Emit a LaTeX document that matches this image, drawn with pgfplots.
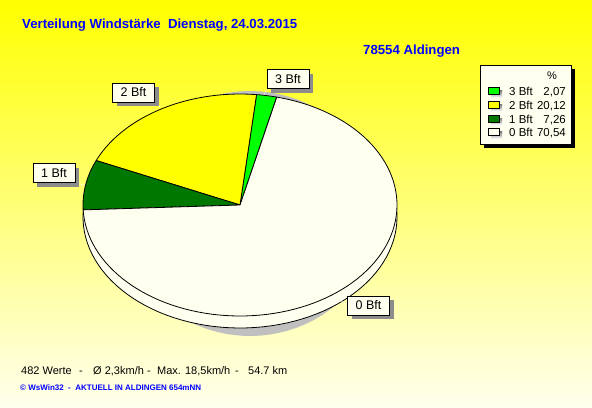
\documentclass[border=0pt]{standalone}
\usepackage{pgfplots}
\pgfplotsset{compat=1.18}
\usepackage{fontspec}
\setmainfont{Liberation Sans}
\usetikzlibrary{shadows}

\definecolor{bgtop}{RGB}{255,255,0}
\definecolor{bgbot}{RGB}{255,255,238}
\definecolor{ivory}{RGB}{255,255,240}
\definecolor{wsblue}{RGB}{0,0,255}
\definecolor{bft3}{RGB}{0,255,0}
\definecolor{bft2}{RGB}{255,255,0}
\definecolor{bft1}{RGB}{0,120,0}
\definecolor{shade}{RGB}{192,192,192}

% shares in percent
\def\pThree{2.07}
\def\pTwo{20.12}
\def\pOne{7.26}
\def\pZero{70.54}
\def\start{76.5}

\newcommand{\legrow}[4]{% y, colour, name, value
    \fill[shade] (491,#1-5) rectangle (502,#1+2);
    \draw[black, line width=0.8bp, fill=#2] (488,#1-8) rectangle (499,#1-1);
    \node[anchor=base west, inner sep=0pt, font=\fontsize{11.5bp}{13bp}\selectfont] at (509,#1) {#3\ Bft};
    \node[anchor=base east, inner sep=0pt, font=\fontsize{11.5bp}{13bp}\selectfont] at (566,#1) {#4};
}

\begin{document}
\begin{tikzpicture}
\begin{axis}[
    scale only axis,
    width=592bp, height=408bp,
    xmin=0, xmax=592, ymin=0, ymax=408,
    y dir=reverse,
    hide axis,
    clip=false,
    trig format plots=deg,
]
% background
\fill[top color=bgtop, bottom color=bgbot] (0,0) rectangle (592,408);

% shadow and rim
\addplot[fill=shade, draw=none, domain=0:360, samples=90]
    ({250+129*cos(x)}, {213.5-122.5*sin(x)}) -- cycle;
\addplot[fill=ivory, draw=black, line width=0.8bp, domain=0:360, samples=120]
    ({240+157*cos(x)}, {217-111*sin(x)}) -- cycle;

% slices
\pgfmathsetmacro{\aA}{\start}
\pgfmathsetmacro{\aB}{\aA+3.6*\pThree}
\pgfmathsetmacro{\aC}{\aB+3.6*\pTwo}
\pgfmathsetmacro{\aD}{\aC+3.6*\pOne}
\pgfmathsetmacro{\aE}{\aD+3.6*\pZero}
\pgfplotsset{every axis plot/.append style={line width=0.8bp, line join=round}}
\addplot[fill=bft3, draw=black, domain=\aA:\aB, samples=6]
    ({240+157*cos(x)}, {205-111*sin(x)}) -- (240,205) -- cycle;
\addplot[fill=bft2, draw=black, domain=\aB:\aC, samples=30]
    ({240+157*cos(x)}, {205-111*sin(x)}) -- (240,205) -- cycle;
\addplot[fill=bft1, draw=black, domain=\aC:\aD, samples=12]
    ({240+157*cos(x)}, {205-111*sin(x)}) -- (240,205) -- cycle;
\addplot[fill=ivory, draw=black, domain=\aD:\aE, samples=100]
    ({240+157*cos(x)}, {205-111*sin(x)}) -- (240,205) -- cycle;

% slice labels
\tikzset{plab/.style={draw=black, line width=0.8bp, fill=ivory, minimum width=42bp, minimum height=19bp,
    inner sep=0pt, font=\fontsize{12.5bp}{14bp}\selectfont,
    drop shadow={shadow xshift=4bp, shadow yshift=-4bp, fill=black!45, opacity=1}}}
\draw[white] (267,89) -- (264,95);
\draw[white] (155,102) -- (160,107);
\draw[white] (75,183) -- (85,185);
\draw[white] (348,306) -- (340,300);
\node[plab] at (288,79) {3 Bft};
\node[plab] at (133.5,92.5) {2 Bft};
\node[plab] at (54,173) {1 Bft};
\node[plab] at (368.5,305.5) {0 Bft};

% legend
\fill[black] (484,69) rectangle (575,148);
\draw[black, line width=0.8bp, fill=ivory] (480,65) rectangle (571,144);
\node[anchor=base, font=\fontsize{11bp}{13bp}\selectfont] at (552,79) {\%};
\legrow{95.7}{bft3}{3}{2,07}
\legrow{109.3}{bft2}{2}{20,12}
\legrow{123}{bft1}{1}{7,26}
\legrow{136.7}{ivory}{0}{70,54}

% titles
\node[anchor=base west, inner sep=0pt, text=wsblue, font=\bfseries\fontsize{13.2bp}{15bp}\selectfont]
    at (22,29) {Verteilung Windst\"arke\ \ Dienstag, 24.03.2015};
\node[anchor=base west, inner sep=0pt, text=wsblue, font=\bfseries\fontsize{13.2bp}{15bp}\selectfont]
    at (363,54) {78554 Aldingen};

% footer
\tikzset{foot/.style={anchor=base west, inner sep=0pt, font=\fontsize{11bp}{13bp}\selectfont}}
\node[foot] at (21,374) {482 Werte};
\node[foot] at (79,374) {-};
\node[foot] at (93,374) {Ø 2,3km/h};
\node[foot] at (147,374) {-};
\node[foot] at (157,374) {Max. 18,5km/h};
\node[foot] at (235,374) {-};
\node[foot] at (248,374) {54.7 km};
\node[anchor=base west, inner sep=0pt, text=wsblue, font=\bfseries\fontsize{8bp}{10bp}\selectfont]
    at (20,390) {© WsWin32\ \ -\ \ AKTUELL IN ALDINGEN 654mNN};
\end{axis}
\end{tikzpicture}
\end{document}
